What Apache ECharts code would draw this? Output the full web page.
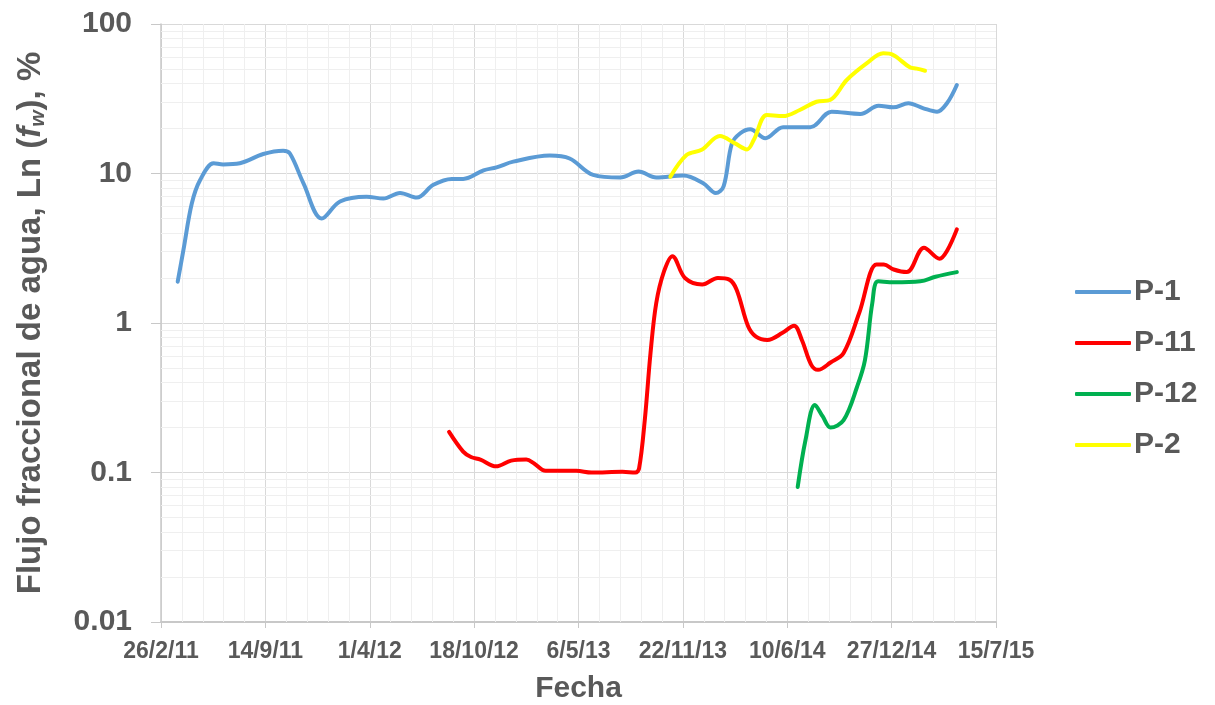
<!DOCTYPE html>
<html>
<head>
<meta charset="utf-8">
<script src="https://cdn.jsdelivr.net/npm/echarts@6/dist/echarts.min.js"></script>
<style>
    html, body {margin: 0; padding: 0; background: #fff;}
    #main {width: 1215px; height: 705px;}
</style>
</head>
<body>
<div id="main"></div>
<script>
/* eje x: dias contados desde 26/2/11 */
var startDate = Date.UTC(2011, 1, 26);
var xTickDays = [0, 200, 400, 600, 800, 1000, 1200, 1400, 1600];
var yTickValues = [0.01, 0.1, 1, 10, 100];

var seriesNames = ['P-1', 'P-11', 'P-12', 'P-2'];
var seriesColors = ['#5b9bd5', '#ff0000', '#00b050', '#ffff00'];

var p1Days = [32, 43, 59, 75, 101, 119, 151, 196, 234, 247, 273, 308, 343, 394, 426, 458, 490, 522, 557, 579,
    618, 643, 675, 745, 783, 828, 880, 915, 949, 1001, 1039, 1063, 1078, 1094, 1110, 1129, 1158, 1192, 1244, 1285,
    1340, 1375, 1403, 1432, 1461, 1487, 1506, 1525];
var p1Vals = [1.89, 3.08, 6.3, 9.05, 11.7, 11.5, 11.7, 13.5, 14.2, 13.6, 8.6, 5.0, 6.5, 7.0, 6.8, 7.4, 6.9, 8.4, 9.2, 9.2,
    10.5, 11.0, 12.0, 13.2, 12.6, 9.8, 9.4, 10.3, 9.4, 9.7, 8.6, 7.4, 8.2, 15.9, 18.6, 19.8, 17.2, 20.4, 20.4, 25.9,
    25.0, 28.4, 27.7, 29.5, 27.3, 25.9, 29.5, 39.1];

var p11Days = [552, 579, 594, 612, 642, 671, 700, 715, 737, 796, 825, 884, 909, 916, 927, 938, 949, 964, 980, 1004,
    1037, 1067, 1089, 1103, 1125, 1140, 1162, 1191, 1213, 1228, 1246, 1259, 1283, 1308, 1338, 1371, 1385, 1404, 1429, 1462,
    1492, 1506, 1525];
var p11Vals = [0.187, 0.138, 0.127, 0.122, 0.110, 0.120, 0.122, 0.115, 0.1026, 0.1026, 0.100, 0.101, 0.100, 0.106, 0.224, 0.63, 1.36, 2.22, 2.80, 2.0,
    1.81, 2.0, 1.95, 1.67, 0.95, 0.81, 0.77, 0.86, 0.96, 0.77, 0.525, 0.486, 0.544, 0.63, 1.17, 2.46, 2.46, 2.28, 2.19, 3.19,
    2.69, 3.03, 4.23];

var p12Days = [1220, 1235, 1253, 1268, 1283, 1308, 1334, 1349, 1363, 1374, 1404, 1455, 1484, 1525];
var p12Vals = [0.080, 0.165, 0.283, 0.237, 0.200, 0.224, 0.376, 0.567, 1.36, 1.90, 1.87, 1.90, 2.04, 2.19];

var p2Days = [976, 1007, 1036, 1071, 1100, 1123, 1136, 1161, 1192, 1224, 1256, 1282, 1314, 1352, 1384, 1403, 1435, 1448, 1464];
var p2Vals = [9.5, 13.3, 14.4, 17.8, 15.9, 14.5, 16.8, 24.6, 24.2, 26.6, 30.2, 31.0, 42.2, 54.5, 63.7, 62.1, 51.3, 50.3, 48.7];

function toPairs(days, vals) {
    var out = [];
    for (var i = 0; i < days.length; i++) {
        out.push([days[i], vals[i]]);
    }
    return out;
}

function dayLabel(d) {
    var dt = new Date(startDate + d * 86400000);
    return dt.getUTCDate() + '/' + (dt.getUTCMonth() + 1) + '/' + String(dt.getUTCFullYear()).slice(2);
}

/*lineas menores: 2..9 en cada decada (eje log) y cada 40 dias (eje x)*/
var minorY = [];
for (var k = 0; k < yTickValues.length - 1; k++) {
    for (var m = 2; m <= 9; m++) {
        minorY.push({yAxis: +(yTickValues[k] * m).toPrecision(3)});
    }
}
var minorX = [];
for (var t = 0; t < xTickDays.length - 1; t++) {
    for (var n = 1; n < 5; n++) {
        minorX.push({xAxis: xTickDays[t] + n * 40});
    }
}

var textColor = '#595959';
var allDays = [p1Days, p11Days, p12Days, p2Days];
var allVals = [p1Vals, p11Vals, p12Vals, p2Vals];

var series = [{
    name: 'minor',
    type: 'line',
    data: [],
    silent: true,
    z: 0,
    markLine: {
        silent: true,
        symbol: 'none',
        animation: false,
        label: {show: false},
        lineStyle: {color: '#efefef', type: 'solid', width: 1},
        data: minorY.concat(minorX)
    }
}];
for (var s = 0; s < seriesNames.length; s++) {
    series.push({
        name: seriesNames[s],
        type: 'line',
        smooth: 0.35,
        showSymbol: false,
        symbol: 'none',
        z: 10,
        lineStyle: {color: seriesColors[s], width: 4, cap: 'round', join: 'round'},
        itemStyle: {color: seriesColors[s]},
        data: toPairs(allDays[s], allVals[s])
    });
}

var myChart = echarts.init(document.getElementById('main'));
var option = {
    animation: false,
    textStyle: {fontFamily: 'Liberation Sans, Arial, sans-serif'},
    grid: {left: 161, right: 219, top: 24, bottom: 83, containLabel: false, outerBoundsMode: 'none'},
    legend: {
        orient: 'vertical',
        left: 1075,
        top: 277,
        padding: 0,
        data: seriesNames,
        icon: 'roundRect',
        itemWidth: 56,
        itemHeight: 4,
        itemGap: 21,
        textStyle: {color: textColor, fontSize: 30, fontWeight: 'bold', lineHeight: 30, padding: [0, 0, 0, -2]}
    },
    xAxis: {
        type: 'value',
        min: 0,
        max: 1600,
        interval: 200,
        z: 1,
        name: 'Fecha',
        nameLocation: 'middle',
        nameGap: 52,
        nameTextStyle: {color: textColor, fontSize: 30, fontWeight: 'bold'},
        axisLine: {show: true, onZero: false, lineStyle: {color: '#c8c8c8', width: 2}},
        axisTick: {show: true, length: 6, lineStyle: {color: '#c8c8c8'}},
        axisLabel: {
            color: textColor, fontSize: 23, fontWeight: 'bold', margin: 18,
            formatter: function (v) { return dayLabel(v); }
        },
        splitLine: {show: true, lineStyle: {color: '#d9d9d9', width: 1}}
    },
    yAxis: {
        type: 'log',
        logBase: 10,
        min: 0.01,
        max: 100,
        z: 1,
        name: '{a|Flujo fraccional de agua, Ln (}{i|f}{s|w}{a|), %}',
        nameLocation: 'middle',
        nameRotate: 90,
        nameGap: 112,
        nameTextStyle: {
            color: textColor, fontSize: 33, fontWeight: 'bold',
            rich: {
                a: {color: textColor, fontSize: 33, fontWeight: 'bold'},
                i: {color: textColor, fontSize: 33, fontWeight: 'bold', fontStyle: 'italic'},
                s: {color: textColor, fontSize: 21, fontWeight: 'bold', fontStyle: 'italic', verticalAlign: 'bottom', padding: [15, 0, 0, 0]}
            }
        },
        axisLine: {show: true, lineStyle: {color: '#c8c8c8', width: 1.5}},
        axisTick: {show: true, length: 10, lineStyle: {color: '#c8c8c8'}},
        axisLabel: {
            color: textColor, fontSize: 30, fontWeight: 'bold', margin: 29,
            formatter: function (v) { return String(+v.toPrecision(3)); }
        },
        splitLine: {show: true, lineStyle: {color: '#d9d9d9', width: 1}}
    },
    series: series
};
myChart.setOption(option);
window.onresize = myChart.resize;
</script>
</body>
</html>
